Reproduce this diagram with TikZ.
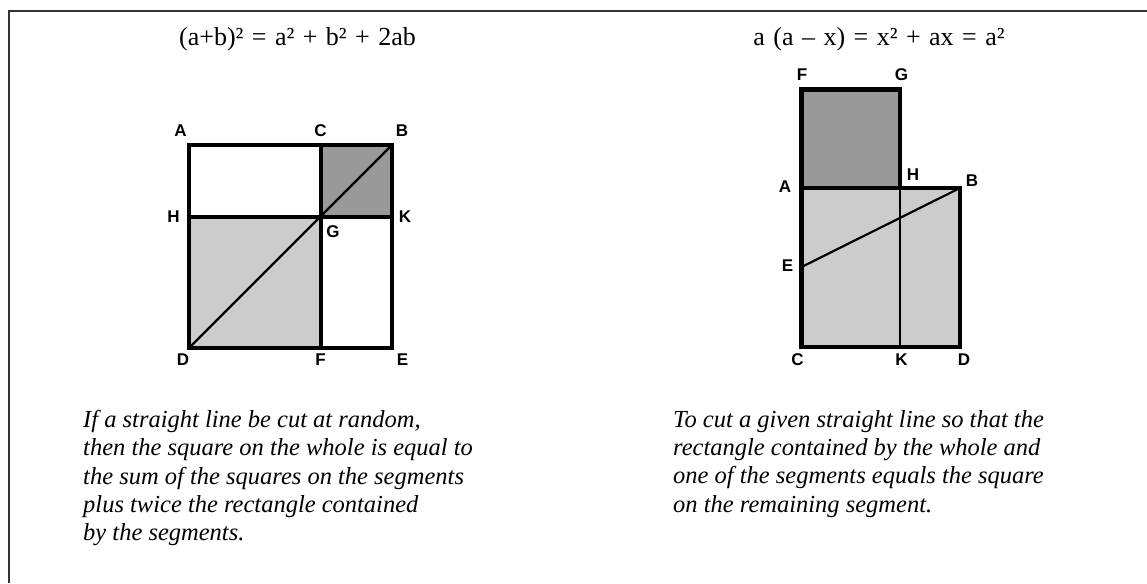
\documentclass[tikz,border=0pt]{standalone}
\usepackage{fontspec}
\setmainfont{Liberation Serif}
\newfontfamily\labelfont{Liberation Sans}
\newfontfamily\titlefont{Liberation Serif}[WordSpace=1.3]
\definecolor{shadedark}{gray}{0.6}
\definecolor{shadelight}{gray}{0.8}
\tikzset{
 lbl/.style={font=\labelfont\bfseries\fontsize{17}{17}\selectfont,inner sep=0pt},
 title/.style={font=\titlefont\fontsize{26}{26}\selectfont,inner sep=0pt,anchor=base},
 caption/.style={font=\itshape\fontsize{24.5}{28.3}\selectfont,align=left,
             inner sep=0pt,anchor=north west},
 heavy/.style={line width=4.6pt},
 light/.style={line width=2.2pt},
 frame/.style={line width=1.5pt,black!80}
}

\begin{document}
\begin{tikzpicture}[x=1pt,y=-1pt]
\useasboundingbox (0,0) rectangle (1147,583);
\draw[frame] (9,583) -- (9,11) -- (1147,11);
\node[title] (t1) at (297.5,45.5) {(a+b)² = a² + b² + 2ab};
\node[title] (t2) at (879,45.5) {a (a – x) = x² + ax = a²};
\coordinate (A1) at (189,145);
\coordinate (C1) at (321,145);
\coordinate (B1) at (392,145);
\coordinate (H1) at (189,217);
\coordinate (G1) at (321,217);
\coordinate (K1) at (392,217);
\coordinate (D1) at (189,348);
\coordinate (F1) at (321,348);
\coordinate (E1) at (392,348);
\fill[shadedark] (C1) rectangle (K1);
\fill[shadelight] (H1) rectangle (F1);
\draw[light] (D1) -- (B1);
\draw[heavy] (A1) rectangle (E1);
\draw[heavy] (H1) -- (K1);
\draw[heavy] (C1) -- (F1);
\node[lbl] (a1) at (180.5,130.5) {A};
\node[lbl] (c1) at (320.5,130.5) {C};
\node[lbl] (b1) at (402,130.5) {B};
\node[lbl] (h1) at (173.5,216.5) {H};
\node[lbl] (k1) at (405,216.5) {K};
\node[lbl] (g1) at (333,232) {G};
\node[lbl] (d1) at (183,360) {D};
\node[lbl] (f1) at (320.5,360) {F};
\node[lbl] (e1) at (402.5,360) {E};
\coordinate (F2) at (801.5,89.5);
\coordinate (G2) at (900,89.5);
\coordinate (A2) at (801.5,188);
\coordinate (H2) at (900,188);
\coordinate (B2) at (960,188);
\coordinate (E2) at (801.5,267);
\coordinate (C2) at (801.5,347);
\coordinate (K2) at (900,347);
\coordinate (D2) at (960,347);
\fill[shadedark] (F2) rectangle (H2);
\fill[shadelight] (A2) rectangle (D2);
\draw[light] (H2) -- (K2);
\draw[light] (E2) -- (B2);
\draw[heavy] (F2) rectangle (H2);
\draw[heavy] (A2) rectangle (D2);
\node[lbl] (f2) at (802,74.5) {F};
\node[lbl] (g2) at (901.5,74.5) {G};
\node[lbl] (a2) at (785,186.5) {A};
\node[lbl] (h2) at (913,175) {H};
\node[lbl] (b2) at (972,181) {B};
\node[lbl] (e2) at (787.5,265.5) {E};
\node[lbl] (c2) at (797.5,360) {C};
\node[lbl] (k2) at (901.5,360) {K};
\node[lbl] (d2) at (964,360) {D};
\node[caption] (s1) at (83,410) {If a straight line be cut at random,\\
 then the square on the whole is equal to\\
 the sum of the squares on the segments\\
 plus twice the rectangle contained\\
 by the segments.};
\node[caption] (s2) at (673,410) {To cut a given straight line so that the\\
 rectangle contained by the whole and\\
 one of the segments equals the square\\
 on the remaining segment.};
\end{tikzpicture}
\end{document}
